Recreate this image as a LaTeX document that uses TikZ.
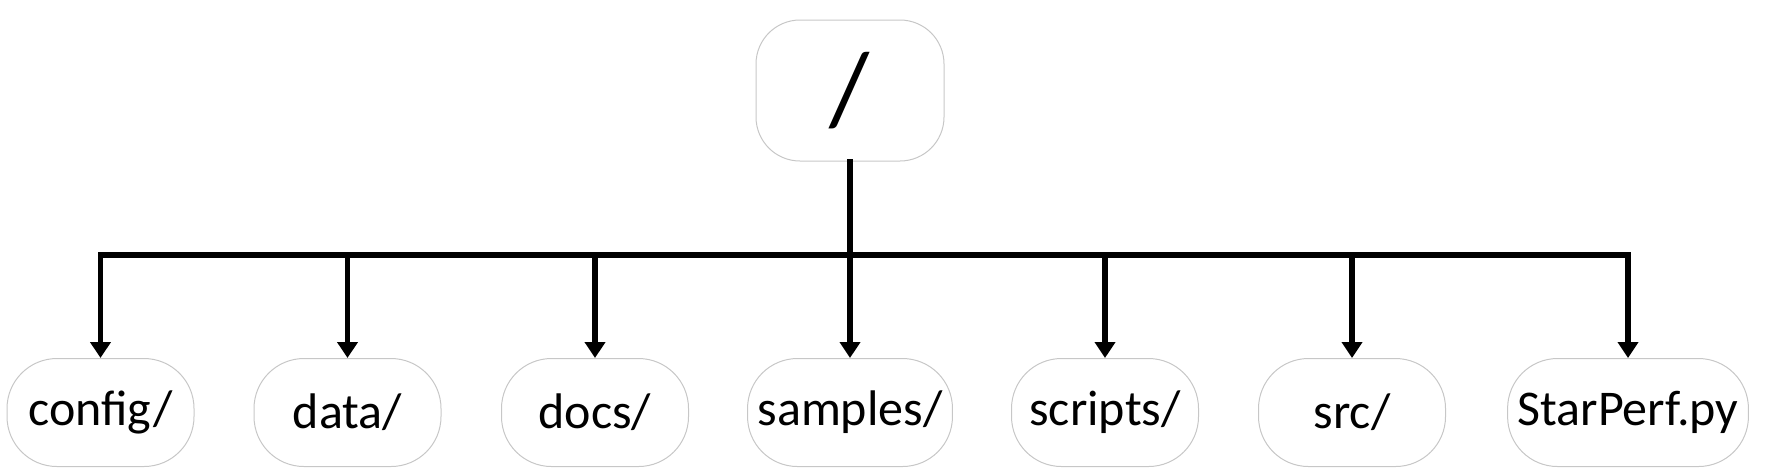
\documentclass[tikz,border=0pt]{standalone}
\usepackage{fontspec}
\setmainfont{Carlito}
\usetikzlibrary{arrows.meta}
\tikzset{
  folder/.style={draw=black!22, line width=0.5pt, rounded corners=25pt,
    minimum width=93.5pt, minimum height=54pt, inner xsep=5pt,
    font=\fontsize{25}{30}\selectfont},
  link/.style={line width=2.6pt, line cap=rect},
  arr/.style={link, -{Triangle[width=10pt,length=8pt]}}
}
\begin{document}
\begin{tikzpicture}[x=0.5pt, y=-0.5pt, line join=miter]
  \useasboundingbox (0,0) rectangle (1770,468);

  % Root directory
  \node[folder, minimum width=94pt, minimum height=70.5pt, rounded corners=22pt,
    font=\fontsize{52}{60}\selectfont] (root) at (850,90.5) {/};

  % Sub-directories and files
  \node[folder] (config)  at (100.5,412.5) {config/};
  \node[folder] (data)    at (347.5,412.5) {data/};
  \node[folder] (docs)    at (595,412.5)   {docs/};
  \node[folder] (samples) at (850,412.5)   {samples/};
  \node[folder] (scripts) at (1105,412.5)  {scripts/};
  \node[folder] (src)     at (1352,412.5)  {src/};
  \node[folder] (main)    at (1628,412.5)  {StarPerf.py};

  % Bus line
  \coordinate (bus) at (850,255);
  \draw[link] (root.south) -- (bus);

  % Branches
  \foreach \n in {config, data, docs, samples, scripts, src, main}
    \draw[arr] (bus) -| (\n.north);

\end{tikzpicture}
\end{document}
